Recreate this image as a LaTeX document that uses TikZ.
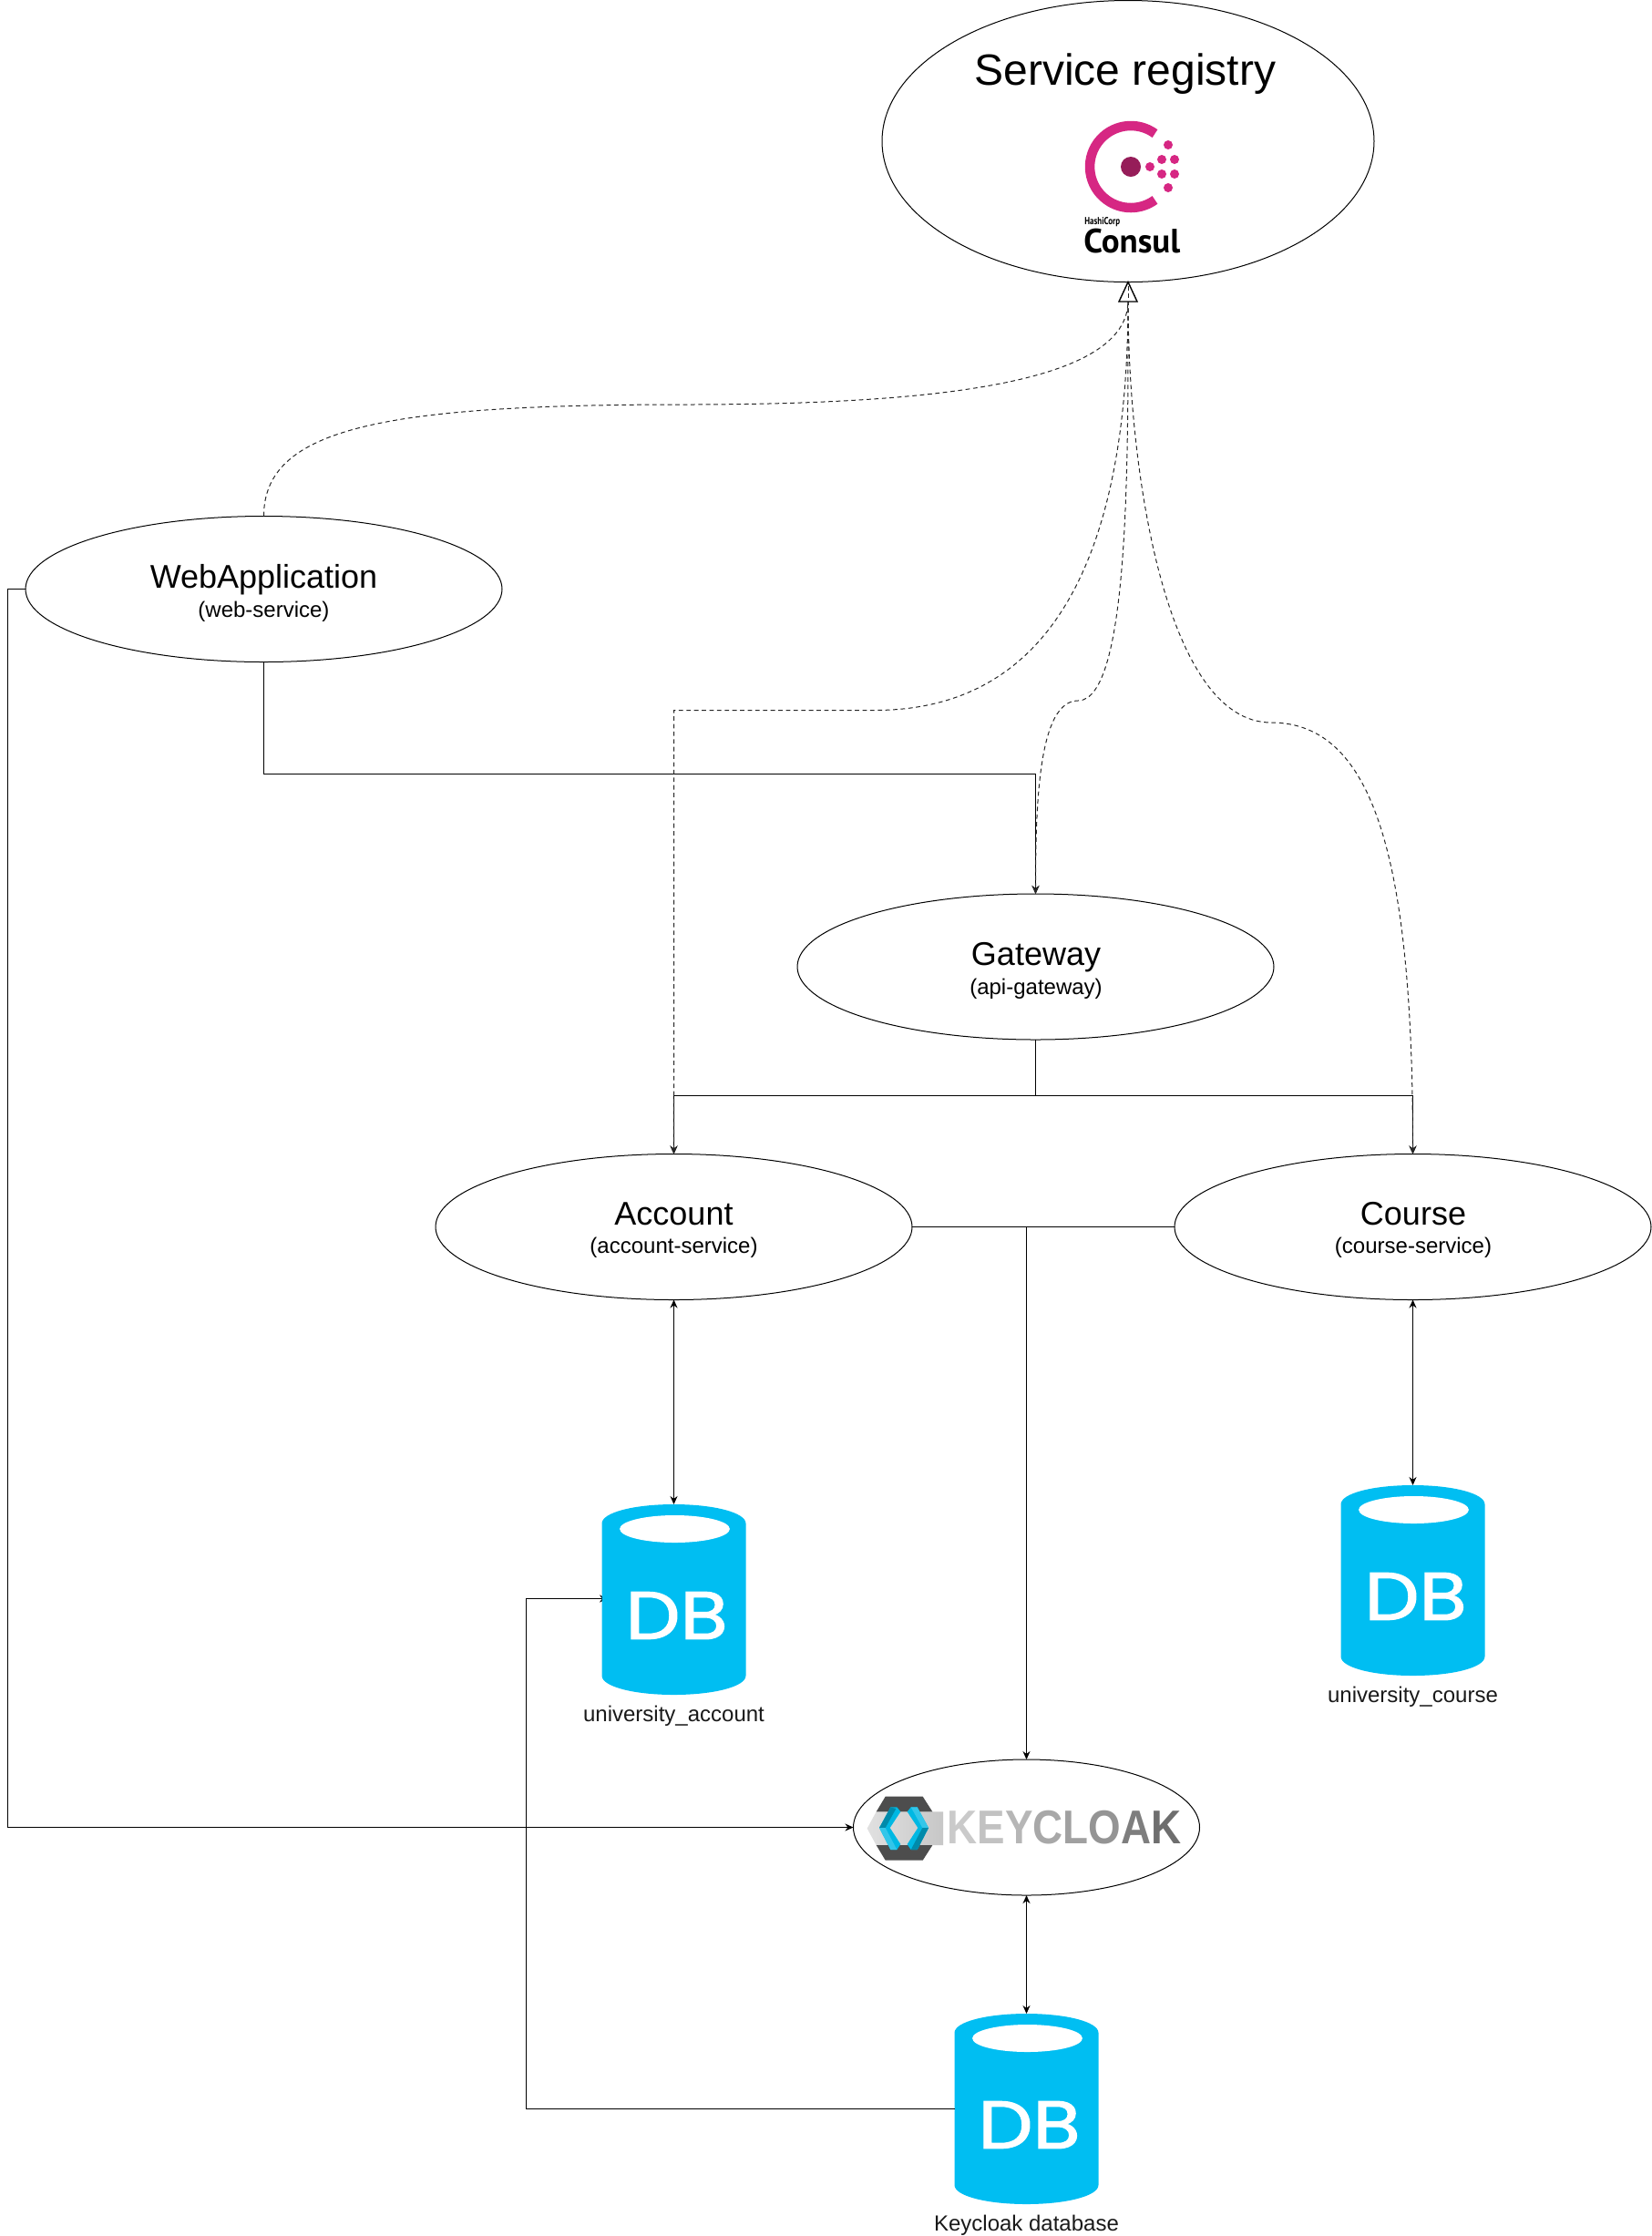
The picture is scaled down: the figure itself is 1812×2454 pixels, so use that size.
\documentclass[tikz,border=0pt]{standalone}
\usepackage{fontspec}
\setmainfont{Liberation Sans}
\newfontfamily\dbfont[FakeBold=1.5]{Poppins}
\newfontfamily\consulfont{PT Sans}
\usetikzlibrary{shapes.geometric,arrows.meta,calc}
\definecolor{dbblue}{HTML}{00BEF2}
\definecolor{consulpink}{HTML}{D62783}
\definecolor{consuldark}{HTML}{961D59}
\definecolor{kcdark}{HTML}{4D4D4D}
\definecolor{kcblue}{HTML}{00B8E3}
\definecolor{kclight}{HTML}{33C6E9}
\definecolor{kcdeep}{HTML}{008AAA}
\tikzset{
  svc/.style={ellipse,draw=black,line width=0.5pt,fill=white,inner sep=0pt,outer sep=0pt,minimum width=261.5pt,minimum height=80pt},
  svctitle/.style={font=\fontsize{18}{21}\selectfont,inner sep=0pt},
  svcsub/.style={font=\fontsize{12}{14}\selectfont,inner sep=0pt},
  dblabel/.style={font=\fontsize{12}{14}\selectfont,inner sep=0pt,text=black!90},
  dbbox/.style={rectangle,inner sep=0pt,outer sep=0pt,minimum width=79pt,minimum height=104.5pt},
  flow/.style={line width=0.55pt,draw=black},
  tip/.style={-{Stealth[length=4.5pt,width=4pt]}},
  twotip/.style={{Stealth[length=4.5pt,width=4pt]}-{Stealth[length=4.5pt,width=4pt]}},
  reg/.style={line width=0.5pt,draw=black!85,dash pattern=on 2.4pt off 1.8pt},
  pinkdot/.style={fill=consulpink},
}
\newcommand{\dbicon}[3]{% name, cx, top
  \begin{scope}[shift={(#2,#3)}]
    \fill[dbblue] (-79,21) .. controls (-79,9) and (-44,0) .. (0,0) .. controls (44,0) and (79,9) .. (79,21)
      -- (79,188) .. controls (79,200) and (44,209) .. (0,209) .. controls (-44,209) and (-79,200) .. (-79,188) -- cycle;
    \fill[white] (1,27) ellipse [x radius=30.2pt,y radius=7.5pt];
    \node[dbbox] (#1) at (0,104.5) {};
    \node[inner sep=0pt,text=white,xscale=1.15,font=\dbfont\fontsize{37}{40}\selectfont] (#1txt) at (3,122) {DB};
  \end{scope}
}
\begin{document}
\begin{tikzpicture}[x=0.5pt,y=-0.5pt]
\useasboundingbox (0,0) rectangle (1812,2454);

\coordinate (regbase) at (1238,330);
\coordinate (branch) at (1136.5,1202.5);
\coordinate (kcjoin) at (1126.5,1346.5);

% nodes
\node[svc,minimum width=270pt,minimum height=154.5pt] (registry) at (1238,155) {};
\node[svc] (web) at (289.5,646.5) {};
\node[svc] (gateway) at (1136.5,1061) {};
\node[svc] (account) at (739.5,1346.5) {};
\node[svc] (course) at (1550.5,1346.5) {};
\node[svc,minimum width=190pt,minimum height=74.5pt] (keycloak) at (1126.5,2005.5) {};

% texts
\node[inner sep=0pt,font=\fontsize{24}{28}\selectfont] (regtext) at (1235,81) {Service registry};
\node[svctitle] (webt) at (289.5,636) {WebApplication};
\node[svcsub] (webs) at (289.5,671) {(web-service)};
\node[svctitle] (gwt) at (1137,1051) {Gateway};
\node[svcsub] (gws) at (1137,1085) {(api-gateway)};
\node[svctitle] (act) at (739.5,1332) {Account};
\node[svcsub] (acs) at (739.5,1369) {(account-service)};
\node[svctitle] (cot) at (1551,1332) {Course};
\node[svcsub] (cos) at (1551,1369) {(course-service)};

% Consul logo
\draw[consulpink,line width=5.25pt] (1267.5,146.6) arc[start angle=54,end angle=306,radius=22.5pt];
\fill[consuldark] (1241,183) ellipse [x radius=5.5pt,y radius=5.5pt];
\foreach \px/\py in {1262/183,1275/175,1289/175,1275/191,1289/191,1282/159,1282/206}
  \fill[pinkdot] (\px,\py) circle [radius=2.5pt];
\node[anchor=west,inner sep=0pt,xscale=0.8,font=\consulfont\bfseries\fontsize{5.6}{6}\selectfont] (hashi) at (1190,244) {HashiCorp};
\node[anchor=west,inner sep=0pt,font=\consulfont\bfseries\fontsize{18.5}{20}\selectfont] (consul) at (1189,265) {Consul};

% Keycloak logo
\begin{scope}[shift={(920,1900)},x=0.1667pt,y=-0.1667pt]
  \shade[left color=black!12,right color=black!22] (95,320) -- (125,265) -- (345,265) -- (345,375) -- (125,375) -- cycle;
  \fill[kcdark] (155,215) -- (278,215) -- (310,265) -- (125,265) -- cycle;
  \fill[kcdark] (125,375) -- (310,375) -- (278,425) -- (155,425) -- cycle;
  \fill[kcblue] (172,250) -- (193,250) -- (205,265) -- (170,318) -- (205,372) -- (193,390) -- (172,390) -- (135,318) -- cycle;
  \fill[kcdeep] (172,250) -- (135,318) -- (155,318) -- (190,255) -- cycle;
  \fill[kclight] (135,318) -- (172,390) -- (193,390) -- (155,318) -- cycle;
  \fill[kcblue] (260,250) -- (239,250) -- (227,265) -- (262,318) -- (227,372) -- (239,390) -- (260,390) -- (297,318) -- cycle;
  \fill[kclight] (260,250) -- (297,318) -- (277,318) -- (239,250) -- cycle;
  \fill[kcdeep] (297,318) -- (260,390) -- (239,390) -- (277,318) -- cycle;
\end{scope}
\node[inner sep=0pt,xscale=0.88,font=\bfseries\fontsize{26}{28}\selectfont] (kctext) at (1168,2006)
  {\textcolor[HTML]{CACACA}{K}\textcolor[HTML]{C2C2C2}{E}\textcolor[HTML]{B6B6B6}{Y}\textcolor[HTML]{A8A8A8}{C}\textcolor[HTML]{A0A0A0}{L}\textcolor[HTML]{949494}{O}\textcolor[HTML]{7E7E7E}{A}\textcolor[HTML]{6E6E6E}{K}};

% edge whose tip lies behind the database icon
\coordinate (db1in) at (667,1754.5);
\draw[flow,tip] (1047,2314.5) -- (577.5,2314.5) -- (577.5,1754.5) -- (db1in);

% databases
\dbicon{dba}{739.5}{1651}
\dbicon{dbb}{1550.5}{1630}
\dbicon{dbc}{1126.5}{2210}
\node[dblabel] (dbal) at (739.5,1883) {university\_account};
\node[dblabel] (dbbl) at (1550.5,1862) {university\_course};
\node[dblabel] (dbcl) at (1126.5,2442) {Keycloak database};

% solid connectors
\draw[flow,tip] (web.south) -- (289.5,849.5) -- (1136.5,849.5) -- (gateway.north);
\draw[flow] (gateway.south) -- (branch);
\draw[flow,tip] (branch) -- (739.5,1202.5) -- (account.north);
\draw[flow,tip] (branch) -- (1550.5,1202.5) -- (course.north);
\draw[flow] (account.east) -- (kcjoin);
\draw[flow] (course.west) -- (kcjoin);
\draw[flow,tip] (kcjoin) -- (keycloak.north);
\draw[flow,twotip] (account.south) -- (dba.north);
\draw[flow,twotip] (course.south) -- (dbb.north);
\draw[flow,twotip] (keycloak.south) -- (dbc.north);
\draw[flow,tip] (web.west) -- (8.5,646.5) -- (8.5,2005.5) -- (keycloak.west);
\draw[flow] (dbc.west) -- (1040,2314.5);

% registration (dashed) connectors
\draw[reg] (web.north) .. controls (289.5,470) and (420,444) .. (751,444) .. controls (1030,444) and (1238,420) .. (regbase);
\draw[reg,-{Stealth[length=4.5pt,width=4pt]}] (regbase) .. controls (1238,600) and (1160,779.5) .. (960,779.5) -- (739.5,779.5) -- (account.north);
\draw[reg,-{Stealth[length=4.5pt,width=4pt]}] (regbase) .. controls (1238,500) and (1240,769) .. (1183,769) .. controls (1140,769) and (1136.5,880) .. (gateway.north);
\draw[reg,-{Stealth[length=4.5pt,width=4pt]}] (regbase) .. controls (1238,520) and (1280,793) .. (1395,793) .. controls (1510,793) and (1550.5,950) .. (course.north);
% hollow triangle at the registry
\draw[line width=0.7pt,fill=white] (registry.south) -- (1248,331) -- (1228,331) -- cycle;
\draw[reg] (1238,314) -- (regbase);
\end{tikzpicture}
\end{document}
